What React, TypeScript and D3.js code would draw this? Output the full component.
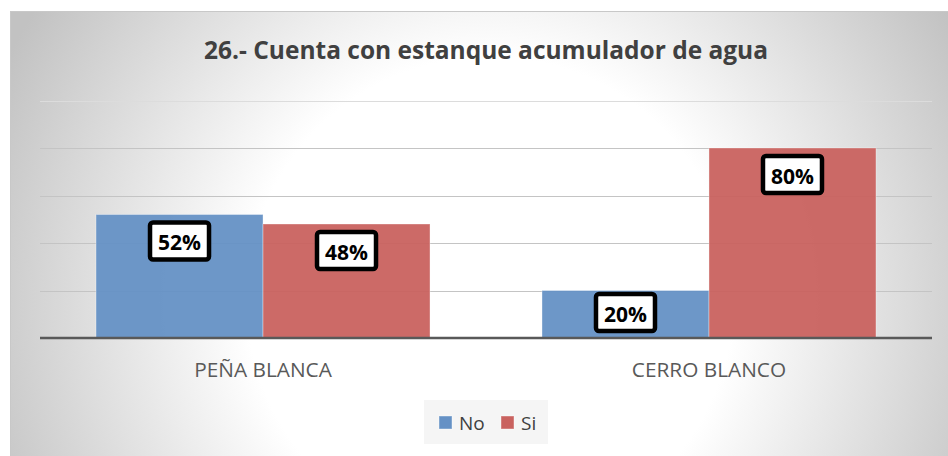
import React from "react";
import * as d3 from "d3";

const categories = ["PEÑA BLANCA", "CERRO BLANCO"];
const seriesNames = ["No", "Si"];
const noValues = [52, 20];
const siValues = [48, 80];
const yTicks = [0, 20, 40, 60, 80, 100];
const title = "26.- Cuenta con estanque acumulador de agua";

const colors: Record<string, string> = { No: "#6591c5", Si: "#c9625f" };

const W = 948;
const H = 456;

export default function App() {
  const left = 40, right = 932, top = 100.5, bottom = 338;
  const x0 = d3.scaleBand<string>().domain(categories).range([left, right]).paddingInner(0.2511).paddingOuter(0.1256);
  const x1 = d3.scaleBand<string>().domain(seriesNames).range([0, x0.bandwidth()]);
  const y = d3.scaleLinear().domain([0, 100]).range([bottom, top]);
  const valuesBy: Record<string, number[]> = { No: noValues, Si: siValues };
  const font = "'Open Sans', 'Liberation Sans', sans-serif";

  const bars: { key: string; cat: string; s: string; v: number }[] = [];
  categories.forEach((c, i) => seriesNames.forEach((s) => bars.push({ key: c + s, cat: c, s, v: valuesBy[s][i] })));

  const boxW = 63, boxH = 41;

  return (
    <svg width={W} height={H} style={{ position: "absolute", left: 0, top: 0 }} xmlns="http://www.w3.org/2000/svg">
      <defs>
        <radialGradient id="bg" gradientUnits="userSpaceOnUse" cx={490} cy={300} r={540}>
          <stop offset="0" stopColor="#ffffff" />
          <stop offset="0.45" stopColor="#ffffff" />
          <stop offset="1" stopColor="#c2c2c2" />
        </radialGradient>
      </defs>
      <rect x={0} y={0} width={W} height={H} fill="#ffffff" />
      <rect x={10} y={11} width={W - 10} height={H - 11} fill="url(#bg)" />
      <line x1={10} x2={W} y1={11.5} y2={11.5} stroke="#c8c8c8" strokeWidth={1} />
      <line x1={10.5} x2={10.5} y1={11} y2={H} stroke="#c8c8c8" strokeWidth={1} />
      <text x={486} y={59} textAnchor="middle" fontFamily={font} fontWeight="bold" fontSize={24.5}
        textLength={564} lengthAdjust="spacingAndGlyphs" fill="#404040">
        {title}
      </text>
      {yTicks.filter((t) => t > 0).map((t) => (
        <line key={t} x1={left} x2={right} y1={Math.round(y(t)) + 0.5} y2={Math.round(y(t)) + 0.5}
          stroke={t === 100 ? "#dcdcdc" : "#c4c4c4"} strokeWidth={1} />
      ))}
      {bars.map((b) => {
        const bx = (x0(b.cat) as number) + (x1(b.s) as number);
        return (
          <rect key={b.key} x={bx} y={y(b.v)} width={x1.bandwidth()} height={bottom - y(b.v)}
            fill={colors[b.s]} fillOpacity={0.95} stroke="#ffffff" strokeOpacity={0.35} strokeWidth={1} />
        );
      })}
      <line x1={left} x2={right} y1={bottom} y2={bottom} stroke="#595959" strokeWidth={2.5} />
      {bars.map((b) => {
        const cx = (x0(b.cat) as number) + (x1(b.s) as number) + x1.bandwidth() / 2;
        const by = Math.min(y(b.v) + 6, bottom - 5 - boxH);
        return (
          <g key={"l" + b.key}>
            <rect x={cx - boxW / 2 + 2} y={by + 2} width={boxW - 4} height={boxH - 4} rx={3}
              fill="#ffffff" stroke="#000000" strokeWidth={4.5} />
            <text x={cx} y={by + 29.5} textAnchor="middle" fontFamily={font} fontWeight="bold"
              fontSize={21} fill="#000000">{b.v + "%"}</text>
          </g>
        );
      })}
      {categories.map((c) => (
        <text key={c} x={(x0(c) as number) + x0.bandwidth() / 2} y={376.5} textAnchor="middle"
          fontFamily={font} fontSize={20.8} fill="#595959">{c}</text>
      ))}
      <rect x={424} y={400} width={124} height={44} fill="#f2f2f2" fillOpacity={0.8} />
      {seriesNames.map((s, i) => {
        const lx = i === 0 ? 439 : 501;
        return (
          <g key={s}>
            <rect x={lx} y={416} width={13} height={13} fill={colors[s]} stroke="#ffffff" strokeOpacity={0.4} />
            <text x={lx + 20} y={429.5} fontFamily={font} fontSize={19} fill="#404040">{s}</text>
          </g>
        );
      })}
    </svg>
  );
}
